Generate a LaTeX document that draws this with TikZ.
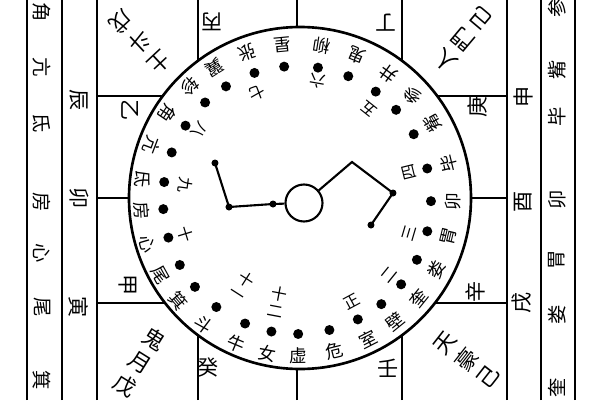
\documentclass[tikz,border=0pt]{standalone}
\usepackage{fontspec}
\setmainfont{Noto Sans CJK SC}

\tikzset{
	plate/.style={line width=1.3pt},
	rim/.style={line width=1.5pt},
	dou/.style={line width=1.2pt},
	xiu/.style={inner sep=0pt, font=\fontsize{10}{10}\selectfont},
	yue/.style={inner sep=0pt, align=center, font=\fontsize{9}{9.5}\selectfont},
	gan/.style={inner sep=0pt, font=\fontsize{12}{12}\selectfont},
	lie/.style={inner sep=0pt, font=\fontsize{11}{11}\selectfont},
	men/.style={inner sep=0pt, align=center, font=\fontsize{12.5}{15.5}\selectfont},
}

\begin{document}
\begin{tikzpicture}[x=0.02cm,y=0.02cm]
	\useasboundingbox (0,0) rectangle (600,400);

	% earth plate
	\foreach \x in {27,62,97,198,297,402,507,541,575}
		\draw[plate] (\x,0) -- (\x,400);
	\foreach \y in {97,202,304}
		\draw[plate] (97,\y) -- (507,\y);

	% heaven disc
	\coordinate (O) at (300,202);
	\coordinate (C) at (297,200);
	\filldraw[rim, fill=white] (O) circle (171);

	% 28 lodges
	\foreach \a/\m [count=\i] in {270.5/虚,284/危,297/室,309/壁,321/奎,333.5/娄,346.5/胃,359.5/卯,
		13.6/毕,29.4/觜,42.3/参,54/井,67.5/鬼,81/柳,95.5/星,108.5/张,122/翼,133.3/轸,
		146.3/角,159.2/亢,172.3/氐,183.9/房,196.3/心,209/尾,220.4/箕,233/斗,247.2/牛,259/女}
	{
		\fill ([shift={(\a:134)}]C) circle (5);
		\node[xiu, rotate=\a+90] (xiu\i) at ([shift={(\a:156)}]C) {\m};
	}

	% months
	\foreach \a/\r/\m [count=\i] in {298.3/116/正,321/119/二,343.6/117/三,13.9/116/四,51.6/116/五,80/121/六,
		110.5/114/七,144.2/120/八,172.4/113/九,196.9/117/十,237.3/102/十\\一,259.2/104/十\\二}
		\node[yue, rotate=\a+90] (yue\i) at ([shift={(\a:\r)}]C) {\m};

	% dipper
	\node[circle, draw, dou, minimum size=0.74cm, inner sep=0pt] (ji) at (304,197) {};
	\coordinate (d1) at (215,237);
	\coordinate (d2) at (229,193);
	\coordinate (d3) at (273,196);
	\coordinate (d4) at (352,238);
	\coordinate (d5) at (393,207);
	\coordinate (d6) at (371,175);
	\draw[dou] (d1) -- (d2) -- (d3) -- (ji);
	\draw[dou] (ji) -- (d4) -- (d5) -- (d6);
	\foreach \p in {d1,d2,d3,d5,d6}
		\fill (\p) circle (3.5);

	% stems
	\node[gan, rotate=180] (bing) at (212,378) {丙};
	\node[gan, rotate=180] (ding) at (386,377) {丁};
	\node[gan, rotate=-90] (yi) at (130,290) {乙};
	\node[gan, rotate=-90] (jia) at (128,115) {甲};
	\node[gan, rotate=90] (geng) at (477,293) {庚};
	\node[gan, rotate=90] (xin) at (475,108) {辛};
	\node[gan] (gui) at (208,33) {癸};
	\node[gan] (ren) at (388,32) {壬};

	% branches
	\node[gan, rotate=-90] (chen) at (79,300) {辰};
	\node[gan, rotate=-90] (mao) at (79,202) {卯};
	\node[gan, rotate=-90] (yin) at (79,93) {寅};
	\node[gan, rotate=90] (shen) at (523,303) {申};
	\node[gan, rotate=90] (you) at (523,198) {酉};
	\node[gan, rotate=90] (xu) at (522,97) {戌};

	% outer lodges
	\foreach \y/\m [count=\i] in {388/角,333/亢,277/氐,198/房,147/心,93/尾,20/箕}
		\node[lie, rotate=-90] (east\i) at (42,\y) {\m};
	\foreach \y/\m [count=\i] in {392/参,330/觜,283/毕,200/卯,140/胃,85/娄,12/奎}
		\node[lie, rotate=90] (west\i) at (557,\y) {\m};

	% gates
	\node[men, rotate=-137] (dihu) at (140,358) {土\\斗\\戊};
	\node[men, rotate=140] (renmen) at (463,360) {人\\門\\己};
	\node[men, rotate=-32] (guimen) at (140,38) {鬼\\月\\戊};
	\node[men, rotate=52] (tianmen) at (467,40) {天\\豪\\己};
\end{tikzpicture}
\end{document}
